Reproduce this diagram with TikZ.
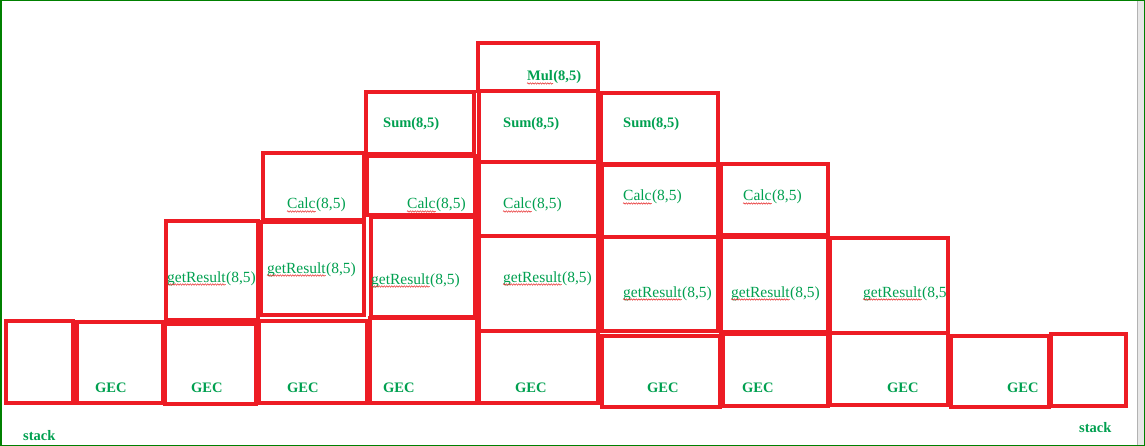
\documentclass[tikz,border=0pt]{standalone}
\usepackage{fontspec}
\setmainfont{Liberation Serif}
\usetikzlibrary{decorations.pathmorphing}
\definecolor{boxred}{RGB}{237,28,36}
\definecolor{txtgreen}{RGB}{0,160,80}
\definecolor{frame}{RGB}{0,128,0}
\definecolor{spell}{RGB}{230,40,40}
\tikzset{
  box/.style={draw=boxred, line width=3.4pt, line join=miter},
  lbl/.style={text=txtgreen, font=\fontsize{14.5}{16}\selectfont\bfseries, anchor=base west, inner sep=0pt},
  lblr/.style={text=txtgreen, font=\fontsize{15.5}{17}\selectfont, anchor=base west, inner sep=0pt},
  wave/.style={draw=spell, line width=0.5pt, decorate, decoration={snake, amplitude=0.7pt, segment length=2.5pt}}
}
\newcommand\wlab[6][lblr]{%
  \node[#1] (#2w) at (#3,#4) {#5};
  \node[#1] (#2r) at (#2w.base east) {#6};
  \draw[wave] ([yshift=-2.5pt]#2w.base west) -- ([yshift=-2.5pt]#2w.base east);}
\begin{document}
\begin{tikzpicture}[x=1pt,y=-1pt]
\useasboundingbox (0,0) rectangle (1145,446);
\fill[white] (0,0) rectangle (1145,446);
\fill[gray!18] (1138,0) rectangle (1144,446);
\draw[gray!60, line width=0.6pt] (1137.5,0) -- (1137.5,446);
\draw[frame, line width=1.5pt] (0.75,0.75) rectangle (1144.25,445.25);
% bottom row
\draw[box] (6,321) rectangle (73,403);
\draw[box] (77,322) rectangle (163,403);
\draw[box] (165,324) rectangle (256,404);
\draw[box] (259,321) rectangle (367,403);
\draw[box] (370,318) rectangle (477,403);
\draw[box] (479,331) rectangle (598,403);
\draw[box] (602,336) rectangle (720,407);
\draw[box] (723,334) rectangle (828,406);
\draw[box] (830,333) rectangle (948,405);
\draw[box] (951,336) rectangle (1049,407);
\draw[box] (1051,334) rectangle (1126,406);
% getResult row
\draw[box] (166,221) rectangle (258,320);
\draw[box] (261,222) rectangle (364,315);
\draw[box] (371,217) rectangle (475,317);
\draw[box] (479,236) rectangle (598,331);
\draw[box] (602,237) rectangle (718,331);
\draw[box] (721,237) rectangle (828,332);
\draw[box] (830,238) rectangle (948,333);
% Calc row
\draw[box] (263,153) rectangle (364,220);
\draw[box] (367,156) rectangle (475,215);
\draw[box] (479,162) rectangle (598,236);
\draw[box] (602,165) rectangle (718,237);
\draw[box] (721,164) rectangle (828,235);
% Sum row
\draw[box] (366,92) rectangle (474,154);
\draw[box] (479,91) rectangle (598,162);
\draw[box] (601,93) rectangle (718,164);
% Mul
\draw[box] (478,43) rectangle (598,91);
% labels
\node[lbl] (gec1) at (95,392) {GEC};
\node[lbl] (gec2) at (191,392) {GEC};
\node[lbl] (gec3) at (287,392) {GEC};
\node[lbl] (gec4) at (383,392) {GEC};
\node[lbl] (gec5) at (515,392) {GEC};
\node[lbl] (gec6) at (647,392) {GEC};
\node[lbl] (gec7) at (742,392) {GEC};
\node[lbl] (gec8) at (887,392) {GEC};
\node[lbl] (gec9) at (1007,392) {GEC};
\node[lbl] (stackl) at (23,440) {stack};
\node[lbl] (stackr) at (1079,432) {stack};
\wlab{gra}{167}{282}{getResult}{(8,5)}
\wlab{grb}{267}{273}{getResult}{(8,5)}
\wlab{grc}{371}{284}{getResult}{(8,5)}
\wlab{grd}{503}{282}{getResult}{(8,5)}
\wlab{gre}{623}{297}{getResult}{(8,5)}
\wlab{grf}{731}{297}{getResult}{(8,5)}
\wlab{grg}{863}{297}{getResult}{(8,5}
\wlab{caa}{287}{209}{Calc}{(8,5)}
\wlab{cab}{407}{209}{Calc}{(8,5)}
\wlab{cac}{503}{209}{Calc}{(8,5)}
\wlab{cad}{623}{201}{Calc}{(8,5)}
\wlab{cae}{743}{201}{Calc}{(8,5)}
\node[lbl] (su1) at (383,128) {Sum(8,5)};
\node[lbl] (su2) at (503,128) {Sum(8,5)};
\node[lbl] (su3) at (623,128) {Sum(8,5)};
\wlab[lbl]{mua}{527}{81}{Mul}{(8,5)}
\end{tikzpicture}
\end{document}
